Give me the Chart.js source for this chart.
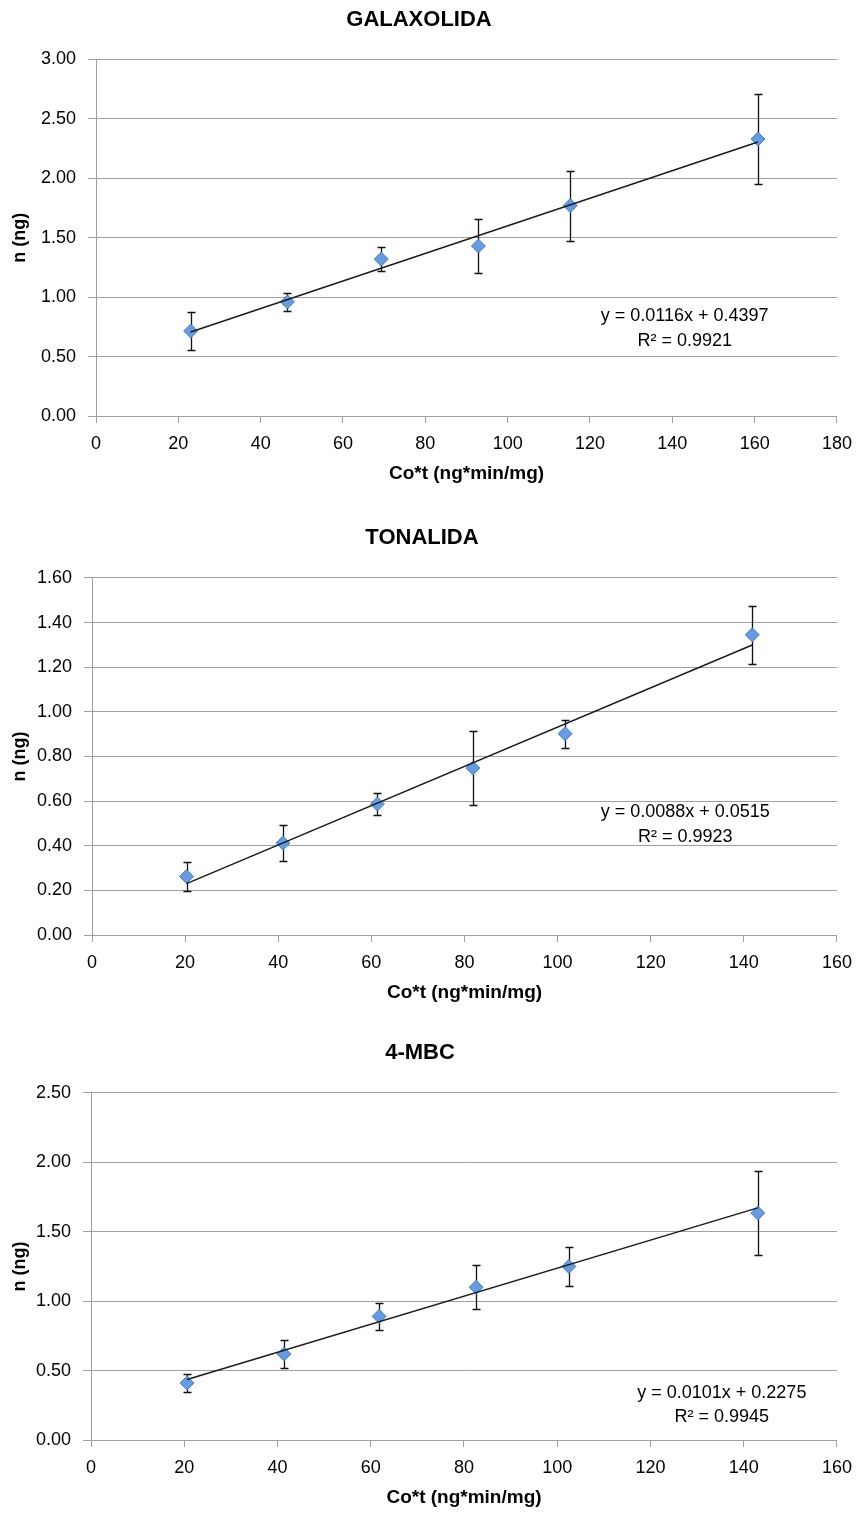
<!DOCTYPE html>
<html>
<head>
<meta charset="utf-8">
<script src="https://cdn.jsdelivr.net/npm/chart.js@4.4.1/dist/chart.umd.min.js"></script>
<style>
  body { margin: 0; background: #fff; }
  .box { position: absolute; left: 0; width: 862px; }
</style>
</head>
<body>
<div class="box" style="top:0;height:500px"><canvas id="c_gala"></canvas></div>
<div class="box" style="top:500px;height:510px"><canvas id="c_tona"></canvas></div>
<div class="box" style="top:1010px;height:511px"><canvas id="c_mbc"></canvas></div>
<script>
// GALAXOLIDA
const galaX = [23.0, 46.5, 69.3, 92.9, 115.2, 160.8];
const galaY = [0.715, 0.96, 1.32, 1.43, 1.77, 2.33];
const galaErr = [0.157, 0.075, 0.10, 0.225, 0.295, 0.375];
const galaSlope = 0.0116, galaIntercept = 0.4397;

// TONALIDA
const tonaX = [20.3, 41.0, 61.3, 81.8, 101.6, 141.8];
const tonaY = [0.262, 0.412, 0.587, 0.748, 0.902, 1.345];
const tonaErr = [0.064, 0.082, 0.05, 0.167, 0.062, 0.13];
const tonaSlope = 0.0088, tonaIntercept = 0.0515;

// 4-MBC
const mbcX = [20.6, 41.4, 61.8, 82.6, 102.5, 143.0];
const mbcY = [0.41, 0.62, 0.89, 1.10, 1.25, 1.635];
const mbcErr = [0.064, 0.10, 0.098, 0.157, 0.14, 0.30];
const mbcSlope = 0.0101, mbcIntercept = 0.2275;

const FONT = "'Liberation Sans', Arial, sans-serif";
const GRID = '#a0a0a0';

// draws the vertical error bars under the markers
const errorBars = {
  id: 'errorBars',
  beforeDatasetsDraw(chart) {
    const ds = chart.data.datasets[0];
    const xs = chart.scales.x, ys = chart.scales.y;
    const ctx = chart.ctx;
    ctx.save();
    ctx.strokeStyle = '#111';
    ctx.lineWidth = 1.3;
    ds.data.forEach((p, i) => {
      const e = ds.errors[i];
      const px = Math.round(xs.getPixelForValue(p.x)) + 0.5;
      const top = Math.round(ys.getPixelForValue(p.y + e)) + 0.5;
      const bot = Math.round(ys.getPixelForValue(p.y - e)) + 0.5;
      ctx.beginPath();
      ctx.moveTo(px, top); ctx.lineTo(px, bot);
      ctx.moveTo(px - 4, top); ctx.lineTo(px + 4, top);
      ctx.moveTo(px - 4, bot); ctx.lineTo(px + 4, bot);
      ctx.stroke();
    });
    ctx.restore();
  }
};

// trendline equation text
const eqLabel = {
  id: 'eqLabel',
  afterDraw(chart, args, opts) {
    const ctx = chart.ctx;
    const x = chart.scales.x.getPixelForValue(opts.at[0]);
    const y1 = chart.scales.y.getPixelForValue(opts.at[1]);
    const y2 = chart.scales.y.getPixelForValue(opts.at[2]);
    ctx.save();
    ctx.font = '18px ' + FONT;
    ctx.fillStyle = '#000';
    ctx.textAlign = 'center';
    ctx.textBaseline = 'middle';
    ctx.fillText(opts.lines[0], x, y1);
    ctx.fillText(opts.lines[1], x, y2);
    ctx.restore();
  }
};

function makeChart(id, title, xs, ys, errs, slope, intercept, xMax, yMax, yStep, lay) {
  const pts = xs.map((x, i) => ({x: x, y: ys[i]}));
  const x0 = xs[0], x1 = xs[xs.length - 1];
  const trend = [{x: x0, y: slope * x0 + intercept}, {x: x1, y: slope * x1 + intercept}];
  return new Chart(document.getElementById(id), {
    type: 'scatter',
    data: {
      datasets: [{
        data: pts,
        errors: errs,
        order: 1,
        pointStyle: 'rectRot',
        pointRadius: 7,
        backgroundColor: '#659be0',
        borderColor: '#4a7fc8',
        borderWidth: 1
      }, {
        data: trend,
        order: 0,
        showLine: true,
        pointRadius: 0,
        borderColor: '#1a1a1a',
        borderWidth: 1.4
      }]
    },
    options: {
      responsive: true,
      maintainAspectRatio: false,
      animation: false,
      layout: { padding: { left: 0, right: lay.right, top: 0, bottom: lay.bottom } },
      plugins: {
        legend: { display: false },
        tooltip: { enabled: false },
        title: {
          display: true,
          text: title,
          color: '#000',
          font: { family: FONT, size: 22, weight: 'bold' },
          padding: { top: lay.titleTop, bottom: lay.titleBottom }
        },
        eqLabel: {
          lines: ['y = ' + slope + 'x + ' + intercept, 'R\u00b2 = ' + lay.r2],
          at: lay.eqAt
        }
      },
      scales: {
        x: {
          type: 'linear',
          min: 0, max: xMax,
          afterFit: s => { s.height = 72; },
          ticks: { stepSize: 20, color: '#000', padding: 10, font: { family: FONT, size: 18 } },
          grid: { drawOnChartArea: false, tickLength: 7, color: GRID },
          border: { color: GRID },
          title: {
            display: true,
            text: 'Co*t (ng*min/mg)',
            color: '#000',
            font: { family: FONT, size: 19, weight: 'bold' },
            padding: { top: 0, bottom: 3 }
          }
        },
        y: {
          min: 0, max: yMax,
          afterFit: s => { s.width = lay.left; },
          ticks: {
            stepSize: yStep, color: '#000', padding: 12,
            font: { family: FONT, size: 18 },
            callback: v => v.toFixed(2)
          },
          grid: { tickLength: 8, color: GRID },
          border: { color: GRID },
          title: {
            display: true,
            text: 'n (ng)',
            color: '#000',
            font: { family: FONT, size: 18, weight: 'bold' },
            padding: { top: 9, bottom: 0 }
          }
        }
      }
    },
    plugins: [errorBars, eqLabel]
  });
}

makeChart('c_gala', 'GALAXOLIDA', galaX, galaY, galaErr, galaSlope, galaIntercept, 180, 3, 0.5,
  { left: 96, right: 24, bottom: 12, titleTop: 7, titleBottom: 26, r2: '0.9921', eqAt: [143, 0.84, 0.63] });
makeChart('c_tona', 'TONALIDA', tonaX, tonaY, tonaErr, tonaSlope, tonaIntercept, 160, 1.6, 0.2,
  { left: 92, right: 18, bottom: 3, titleTop: 25, titleBottom: 26.5, r2: '0.9923', eqAt: [127.4, 0.552, 0.44] });
makeChart('c_mbc', '4-MBC', mbcX, mbcY, mbcErr, mbcSlope, mbcIntercept, 160, 2.5, 0.5,
  { left: 91, right: 22, bottom: 9, titleTop: 30, titleBottom: 26.5, r2: '0.9945', eqAt: [135.3, 0.338, 0.163] });
</script>
</body>
</html>
